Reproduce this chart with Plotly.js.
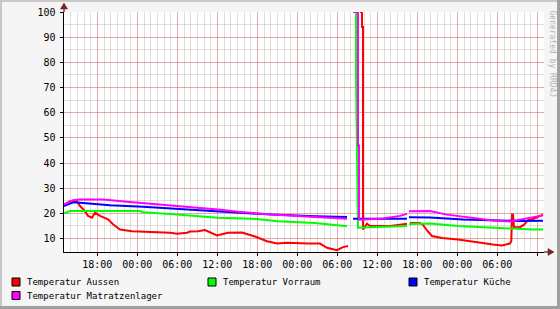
<!DOCTYPE html>
<html>
<head>
<meta charset="utf-8">
<script src="https://cdn.plot.ly/plotly-3.0.1.min.js"></script>
<style>
html,body{margin:0;padding:0;background:#f5f5f5;}
#chart{width:560px;height:309px;}
</style>
</head>
<body>
<div id="chart"></div>
<script>
// Hours since 13:00 on day 1
const seriesNames = ["Temperatur Aussen", "Temperatur Vorraum", "Temperatur Küche", "Temperatur Matratzenlager"];

const hoursAussen = [0,0.9,1.95,2.4,3.15,3.6,4.2,4.65,5.4,6.6,7.35,8.4,10.2,14.4,15.9,16.95,18.45,18.9,20.1,21.15,22.95,24.6,26.7,28.65,30.45,31.95,33.45,36.6,38.4,39.45,40.95,41.85,42.6,43.5,44.4,44.7,44.7,44.85,44.85,45.45,45.9,46.95,48.9,50.4,51.45,51.6,51.9,53.4,53.85,54.45,55.2,56.7,59.1,60.6,61.95,64.35,65.7,66.9,67.1,67.2,67.35,67.5,68.4,69,69.6,70.65,71.85];
const tempAussen  = [23.5,24.8,24.8,22.9,20.9,19,18.3,20.3,19,17.6,15.7,13.6,12.9,12.5,12.3,11.9,12.3,12.8,12.9,13.4,11.2,12.3,12.4,10.8,8.9,8,8.3,8,8,6.3,5.4,6.6,7,null,100,100,94,94,13.6,15.9,15,15,15,15.5,15.9,null,16.2,16.2,15.4,13.2,11,10.2,9.6,9,8.3,7.6,7.2,8,9,19.5,19.5,14.5,14.5,15.5,17.3,18,19.5];

const hoursVorraum = [0,0.9,11.4,11.85,15.9,18.9,23.1,28.2,32.1,37.65,42.45,42.9,43.8,43.8,44.1,47.4,51.45,51.6,51.75,54.9,59.1,64.2,66.6,70.2,71.85];
const tempVorraum  = [20,20.9,20.9,20.4,19.7,19.2,18.3,17.9,16.9,16.2,14.9,null,100,75,14.3,14.5,15,null,15.8,16,15,14.4,13.9,13.6,13.6];

const hoursKueche = [0,0.9,1.35,2.4,3.9,6.9,11.85,14.4,18.15,23.1,26.1,31.2,37.65,42.45,42.9,43.35,51.45,51.6,51.75,54.9,59.85,66.9,68.4,71.85];
const tempKueche  = [22.9,24,24.4,24.2,23.9,23.2,22.6,22.2,21.6,20.9,20.2,19.5,18.9,18.6,null,17.9,17.9,null,18.5,18.4,17.6,16.9,17,17.1];

const hoursMatratzen = [0,1.35,2.4,5.85,9.45,14.4,18.9,23.1,26.1,31.2,37.65,42.45,42.9,43.35,44.1,44.1,44.25,44.25,47.85,50.4,51.45,51.6,51.75,54.9,57.45,60.9,64.35,66.9,68.4,69.9,71.85];
const tempMatratzen  = [23.5,25.2,25.5,25.5,24.6,23.5,22.7,21.5,20.6,19.5,18.6,17.9,null,100,100,47,47,17.5,18,19,19.8,null,20.8,20.9,19.5,18.3,17.2,16.8,17.5,18.3,19.2];

const tickHours  = [5,11,17,23,29,35,41,47,53,59,65,71];
const tickLabels = ["18:00","00:00","06:00","12:00","18:00","00:00","06:00","12:00","18:00","00:00","06:00",""];
const yTicks = [10,20,30,40,50,60,70,80,90,100];

const colors = ["#ff0000","#00ff00","#0000ff","#ff00ff"];
const xs = [hoursAussen, hoursVorraum, hoursKueche, hoursMatratzen];
const ys = [tempAussen, tempVorraum, tempKueche, tempMatratzen];

const traces = seriesNames.map((n,i)=>({
  type:"scatter", mode:"lines", name:n, x:xs[i], y:ys[i],
  line:{color:colors[i], width:2, shape:"linear"}, connectgaps:false, showlegend:false
}));

// pixel helpers (plot area: x 64..544, y 12..252)
const L=64, T=12, W=480, H=240;
const px = v => (v-L)/W;
const py = v => (T+H-v)/H;

const shapes = [];
const annotations = [];
// frame
shapes.push({type:"rect",xref:"paper",yref:"paper",x0:px(0),x1:px(2),y0:py(309),y1:py(0),fillcolor:"#c8c8c8",line:{width:0},layer:"above"});
shapes.push({type:"rect",xref:"paper",yref:"paper",x0:px(0),x1:px(560),y0:py(2),y1:py(0),fillcolor:"#c8c8c8",line:{width:0},layer:"above"});
shapes.push({type:"rect",xref:"paper",yref:"paper",x0:px(557),x1:px(560),y0:py(309),y1:py(0),fillcolor:"#a0a0a0",line:{width:0},layer:"above"});
shapes.push({type:"rect",xref:"paper",yref:"paper",x0:px(0),x1:px(560),y0:py(309),y1:py(306),fillcolor:"#a0a0a0",line:{width:0},layer:"above"});
// axis extensions and arrows
shapes.push({type:"line",xref:"paper",yref:"paper",x0:px(64),x1:px(64),y0:py(12),y1:py(7),line:{color:"#000",width:1},layer:"above"});
shapes.push({type:"line",xref:"paper",yref:"paper",x0:px(544),x1:px(549),y0:py(252),y1:py(252),line:{color:"#000",width:1},layer:"above"});
shapes.push({type:"path",xref:"paper",yref:"paper",
  path:`M ${px(60.5)} ${py(9)} L ${px(67.5)} ${py(9)} L ${px(64)} ${py(3)} Z`,fillcolor:"#7f1f1f",line:{color:"#7f1f1f",width:0.5},layer:"above"});
shapes.push({type:"path",xref:"paper",yref:"paper",
  path:`M ${px(548)} ${py(248.5)} L ${px(548)} ${py(255.5)} L ${px(554)} ${py(252)} Z`,fillcolor:"#7f1f1f",line:{color:"#7f1f1f",width:0.5},layer:"above"});

// legend
const legendPos = [[12,282],[208,282],[409,282],[12,295.5]];
seriesNames.forEach((n,i)=>{
  const [bx,by]=legendPos[i];
  shapes.push({type:"rect",xref:"paper",yref:"paper",x0:px(bx),x1:px(bx+8),y0:py(by+4),y1:py(by-4),
    fillcolor:colors[i],line:{color:"#000",width:1},layer:"above"});
  annotations.push({xref:"paper",yref:"paper",x:px(bx+13),y:py(by),xanchor:"left",yanchor:"middle",
    text:n,showarrow:false,font:{family:"DejaVu Sans Mono",size:9,color:"#000"}});
});
annotations.push({xref:"paper",yref:"paper",x:px(552.5),y:py(54),xanchor:"center",yanchor:"middle",
  text:"Generated by RRD4J",textangle:90,showarrow:false,font:{family:"DejaVu Sans Mono",size:8,color:"#b4b4b4"}});

const majorGrid = "rgba(240,90,90,0.38)";
const minorGrid = "rgba(150,150,150,0.3)";

const layout = {
  width:560, height:309,
  margin:{l:64,r:16,t:12,b:57,pad:0},
  paper_bgcolor:"#f5f5f5", plot_bgcolor:"#ffffff",
  showlegend:false,
  xaxis:{type:"linear",range:[0,72],tickmode:"array",tickvals:tickHours,ticktext:tickLabels,
    showgrid:true,gridcolor:majorGrid,gridwidth:1,zeroline:false,
    showline:true,linecolor:"#000",linewidth:1,ticks:"outside",ticklen:3,tickcolor:"#000",
    tickfont:{family:"DejaVu Sans Mono",size:10,color:"#000"},
    minor:{dtick:1,tick0:0,showgrid:true,gridcolor:minorGrid,gridwidth:1,ticks:""}},
  yaxis:{range:[4.65,100],tickmode:"array",tickvals:yTicks,
    showgrid:true,gridcolor:majorGrid,gridwidth:1,zeroline:false,
    showline:true,linecolor:"#000",linewidth:1.5,ticks:"outside",ticklen:3,tickcolor:"#000",
    ticklabelstandoff:2,
    tickfont:{family:"DejaVu Sans Mono",size:10,color:"#000"},
    minor:{dtick:5,tick0:0,showgrid:true,gridcolor:minorGrid,gridwidth:1,ticks:""}},
  shapes:shapes, annotations:annotations
};

Plotly.newPlot("chart", traces, layout, {displayModeBar:false, staticPlot:true});
</script>
</body>
</html>
